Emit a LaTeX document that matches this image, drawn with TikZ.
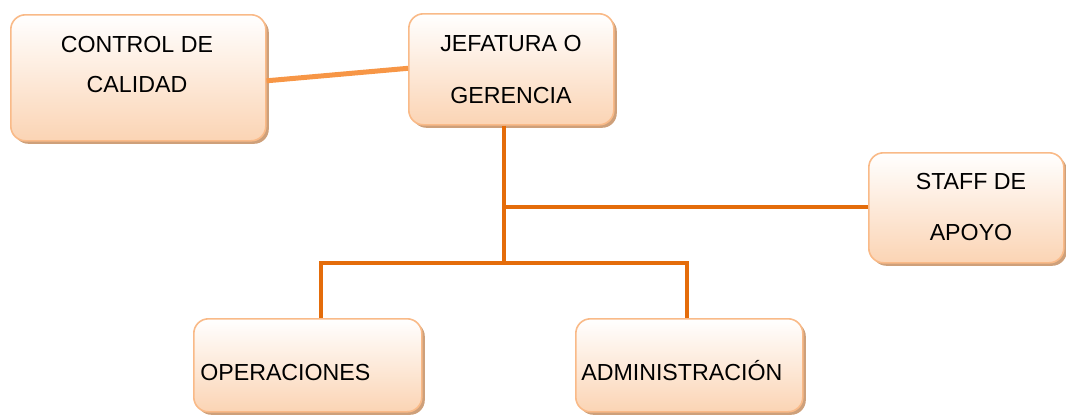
\documentclass[tikz,border=0pt]{standalone}
\usepackage{fontspec}
\setmainfont{Liberation Sans}
\usetikzlibrary{shadows}
\definecolor{peach}{RGB}{251,212,180}
\definecolor{boxline}{RGB}{249,186,136}
\definecolor{shadowc}{RGB}{206,160,122}
\definecolor{darkline}{RGB}{228,108,10}
\definecolor{lightline}{RGB}{247,150,70}
\begin{document}
\begin{tikzpicture}[x=0.75pt,y=-0.75pt,
  orgbox/.style={rectangle, rounded corners=11pt, draw=boxline, line width=1.2pt,
    top color=white, bottom color=peach, inner sep=0pt, anchor=north west,
    general shadow={fill=shadowc, shadow xshift=2.25pt, shadow yshift=-2.25pt}},
  txt/.style={font=\fontsize{17.4pt}{20pt}\selectfont, inner sep=0pt, anchor=base, text=black},
  txtl/.style={txt, anchor=base west},
  darkconn/.style={draw=darkline, line width=2.6pt},
  lightconn/.style={draw=lightline, line width=3.75pt}]
\useasboundingbox (0,0) rectangle (1066,414);
% boxes
\node[orgbox, minimum width=191.25pt, minimum height=94.5pt] (ctrl) at (10,14) {};
\node[orgbox, minimum width=153.75pt, minimum height=83.25pt] (jef) at (408,13) {};
\node[orgbox, minimum width=146.25pt, minimum height=82.5pt] (staff) at (868,152) {};
\node[orgbox, minimum width=171pt, minimum height=69.75pt] (ops) at (193,318) {};
\node[orgbox, minimum width=170.25pt, minimum height=69.75pt] (adm) at (575,318) {};
% texts
\node[txt] (ctrlA) at (137,52) {CONTROL DE};
\node[txt] (ctrlB) at (137,92) {CALIDAD};
\node[txt] (jefA) at (511,51) {JEFATURA O};
\node[txt] (jefB) at (511,103) {GERENCIA};
\node[txt] (staffA) at (971,189) {STAFF DE};
\node[txt] (staffB) at (971,240) {APOYO};
\node[txtl] (opsT) at (200,380) {OPERACIONES};
\node[txtl] (admT) at (581,380) {ADMINISTRACIÓN};
% junctions
\coordinate (trunk) at (504,263);
\coordinate (branch) at (504,207);
\coordinate (jOps) at (321,263);
\coordinate (jAdm) at (687,263);
% connectors
\draw[lightconn] ([yshift=-2.25pt]ctrl.east) -- ([yshift=0.75pt]jef.west);
\draw[darkconn] (jef.south -| trunk) -- (trunk);
\draw[darkconn] (branch) -- (branch -| staff.west);
\draw[darkconn] (jOps |- ops.north) -- (jOps) -- (jAdm) -- (jAdm |- adm.north);
\end{tikzpicture}
\end{document}
